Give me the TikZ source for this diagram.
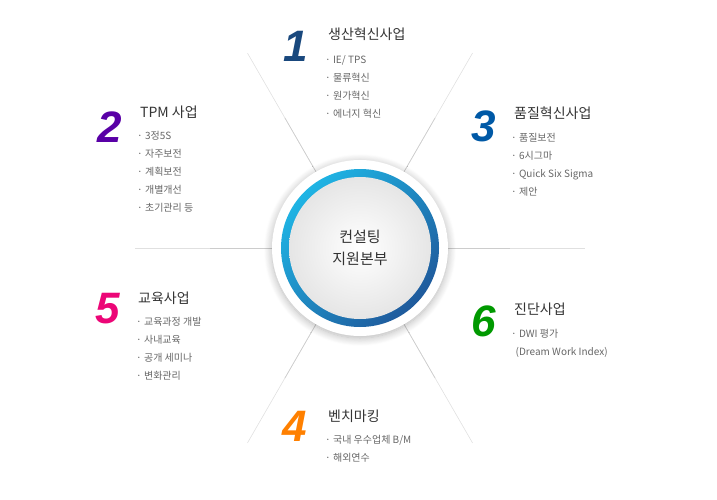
\documentclass[tikz,border=0pt]{standalone}
\usepackage{fontspec}
\setmainfont{Noto Sans CJK KR}
\newfontfamily\numfont{Liberation Sans}
\usetikzlibrary{shadows.blur}
\definecolor{ringA}{HTML}{1FB4E4}
\definecolor{ringB}{HTML}{1F5A9C}
\definecolor{itemc}{HTML}{666666}
\definecolor{titlec}{HTML}{333333}
\begin{document}
\begin{tikzpicture}[x=1pt,y=-1pt,
  ttl/.style={anchor=west,text=titlec,font=\fontsize{14}{16}\selectfont,inner sep=0},
  itm/.style={anchor=north west,text=itemc,font=\fontsize{10}{18}\selectfont,align=left,inner sep=0},
  num/.style={font=\numfont\bfseries\itshape\fontsize{44}{44}\selectfont,inner sep=0},
  ray/.style={draw=black!12,line width=0.6pt}]
\useasboundingbox (0,0) rectangle (717,500);
\coordinate (c) at (360,248);
\foreach \a in {0,60,120,180,240,300}{
  \draw[ray] (c) -- ++({225*cos(\a)},{-225*sin(\a)});
  \draw[draw=black!20,line width=0.6pt] (c) -- ++({150*cos(\a)},{-150*sin(\a)});
}
\fill[white, blur shadow={shadow blur steps=10,shadow xshift=0pt,shadow yshift=-2pt,shadow blur radius=8pt,shadow opacity=30}] (c) circle (88);
\shade[left color=ringA,right color=ringB,shading angle=45] (c) circle (79);
\shade[inner color=white,outer color=black!10] (c) circle (71);
\node[align=center,text=titlec,font=\fontsize{15}{22}\selectfont] (ctr) at (c) {컨설팅\\지원본부};
% 1
\node[num,text=ringB!80!black] (n1) at (296,46) {1};
\node[ttl] (t1) at (328,34) {생산혁신사업};
\node[itm] (i1) at (325,55) {· IE/ TPS\\· 물류혁신\\· 원가혁신\\· 에너지 혁신};
% 2
\node[num,text=violet!70!blue] (n2) at (110,127) {2};
\node[ttl] (t2) at (140,112) {TPM 사업};
\node[itm] (i2) at (137,131) {· 3정5S\\· 자주보전\\· 계획보전\\· 개별개선\\· 초기관리 등};
% 3
\node[num,text=teal!70!blue] (n3) at (484,126) {3};
\node[ttl] (t3) at (514,113) {품질혁신사업};
\node[itm] (i3) at (511,133) {· 품질보전\\· 6시그마\\· Quick Six Sigma\\· 제안};
% 5
\node[num,text=magenta!80!red] (n5) at (108,309) {5};
\node[ttl] (t5) at (138,298) {교육사업};
\node[itm] (i5) at (136,317) {· 교육과정 개발\\· 사내교육\\· 공개 세미나\\· 변화관리};
% 6
\node[num,text=green!60!black] (n6) at (484,321) {6};
\node[ttl] (t6) at (514,309) {진단사업};
\node[itm] (i6) at (511,329) {· DWI 평가\\\ \ (Dream Work Index)};
% 4
\node[num,text=orange] (n4) at (295,426) {4};
\node[ttl] (t4) at (328,416) {벤치마킹};
\node[itm] (i4) at (325,435) {· 국내 우수업체 B/M\\· 해외연수};
\end{tikzpicture}
\end{document}
